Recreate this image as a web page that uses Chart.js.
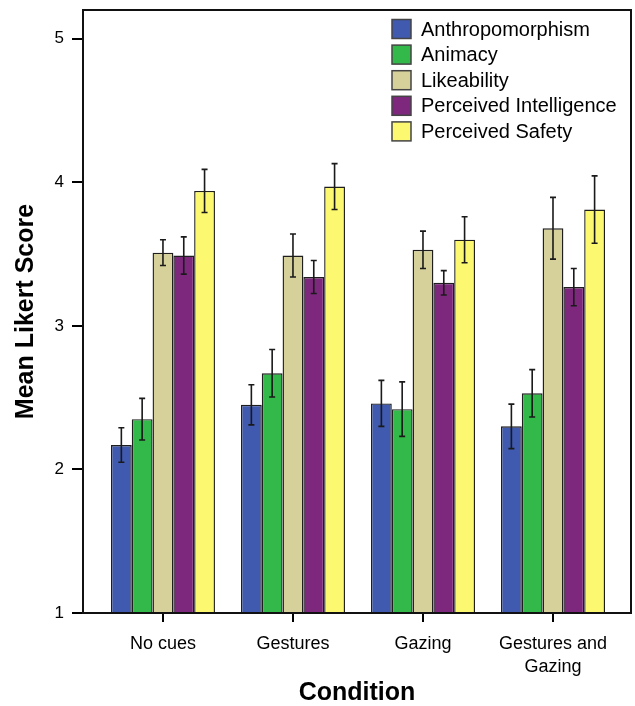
<!DOCTYPE html>
<html>
<head>
<meta charset="utf-8">
<script src="https://cdn.jsdelivr.net/npm/chart.js@4/dist/chart.umd.min.js"></script>
<style>
  html, body { margin: 0; padding: 0; background: #fff; }
  #wrap { width: 635px; height: 706px; position: relative; }
</style>
</head>
<body>
<div id="wrap"><canvas id="c"></canvas></div>
<script>
const categories = ['No cues', 'Gestures', 'Gazing', 'Gestures and Gazing'];
const tickLabels = [['No cues'], ['Gestures'], ['Gazing'], ['Gestures and', 'Gazing']];
const seriesNames = ['Anthropomorphism', 'Animacy', 'Likeability', 'Perceived Intelligence', 'Perceived Safety'];
const seriesColors = ['#3F5AAE', '#33B84A', '#D6D09A', '#7D287D', '#FCF870'];

const anthropomorphism = [2.17, 2.45, 2.46, 2.30];
const animacy = [2.35, 2.67, 2.42, 2.53];
const likeability = [3.51, 3.49, 3.53, 3.68];
const intelligence = [3.49, 3.34, 3.30, 3.27];
const safety = [3.94, 3.97, 3.60, 3.81];

const anthropomorphismErr = [0.12, 0.14, 0.16, 0.155];
const animacyErr = [0.145, 0.165, 0.19, 0.165];
const likeabilityErr = [0.09, 0.15, 0.13, 0.215];
const intelligenceErr = [0.13, 0.115, 0.085, 0.13];
const safetyErr = [0.15, 0.16, 0.16, 0.235];

const yTicks = [1, 2, 3, 4, 5];

const seriesValues = [anthropomorphism, animacy, likeability, intelligence, safety];
const seriesErrors = [anthropomorphismErr, animacyErr, likeabilityErr, intelligenceErr, safetyErr];

const FONT = '"Liberation Sans", Arial, Helvetica, sans-serif';

const datasets = seriesNames.map((name, s) => ({
  label: name,
  data: seriesValues[s].map((v, i) => ({ x: i + 1, y: v })),
  errors: seriesErrors[s],
  backgroundColor: seriesColors[s],
  borderColor: '#1e1e1e',
  borderWidth: 1.4,
  categoryPercentage: 0.8,
  barPercentage: 1.0
}));

const frameAndErrors = {
  id: 'frameAndErrors',
  afterDatasetsDraw(chart) {
    const ctx = chart.ctx;
    const yScale = chart.scales.y;
    ctx.save();
    ctx.strokeStyle = '#1a1a1a';
    ctx.lineWidth = 1.6;
    chart.data.datasets.forEach((ds, di) => {
      const meta = chart.getDatasetMeta(di);
      meta.data.forEach((bar, i) => {
        const v = ds.data[i].y, e = ds.errors[i];
        const x = bar.x;
        const yt = yScale.getPixelForValue(v + e);
        const yb = yScale.getPixelForValue(v - e);
        ctx.beginPath();
        ctx.moveTo(x, yt); ctx.lineTo(x, yb);
        ctx.moveTo(x - 3, yt); ctx.lineTo(x + 3, yt);
        ctx.moveTo(x - 3, yb); ctx.lineTo(x + 3, yb);
        ctx.stroke();
      });
    });
    const a = chart.chartArea;
    ctx.strokeStyle = '#111';
    ctx.lineWidth = 2;
    ctx.strokeRect(a.left, a.top, a.right - a.left, a.bottom - a.top);
    ctx.restore();
  },
  afterDraw(chart) {
    const ctx = chart.ctx;
    ctx.save();
    const boxX = 392, startY = 29, step = 25.6, box = 19;
    ctx.font = '20px ' + FONT;
    ctx.textBaseline = 'middle';
    ctx.textAlign = 'left';
    chart.data.datasets.forEach((ds, i) => {
      const cy = startY + i * step;
      ctx.fillStyle = ds.backgroundColor;
      ctx.fillRect(boxX, cy - box / 2, box, box);
      ctx.strokeStyle = '#444';
      ctx.lineWidth = 1.5;
      ctx.strokeRect(boxX, cy - box / 2, box, box);
      ctx.fillStyle = '#000';
      ctx.fillText(ds.label, 421, cy + 1);
    });
    ctx.restore();
  }
};

new Chart(document.getElementById('c'), {
  type: 'bar',
  data: { datasets },
  plugins: [frameAndErrors],
  options: {
    responsive: true,
    maintainAspectRatio: false,
    animation: false,
    layout: { padding: { left: 0, right: 4, top: 10, bottom: 0 } },
    plugins: { legend: { display: false }, tooltip: { enabled: false } },
    scales: {
      x: {
        type: 'linear',
        min: 0.385,
        max: 4.6,
        offset: false,
        afterBuildTicks: (scale) => { scale.ticks = categories.map((c, i) => ({ value: i + 1 })); },
        afterFit: (scale) => { scale.height = 93; scale.paddingLeft = 0; scale.paddingRight = 0; },
        ticks: {
          autoSkip: false,
          maxRotation: 0,
          padding: 10,
          color: '#000',
          font: { family: FONT, size: 18, lineHeight: 1.3 },
          callback: (value) => tickLabels[Math.round(value) - 1]
        },
        grid: { display: true, drawOnChartArea: false, drawTicks: true, tickLength: 9, offset: false, color: '#000', lineWidth: 2 },
        border: { display: false },
        title: {
          display: true,
          text: 'Condition',
          color: '#000',
          font: { family: FONT, size: 25, weight: 'bold', lineHeight: 1 },
          padding: { top: 0, bottom: 0 }
        }
      },
      y: {
        min: 1,
        max: 5.2,
        afterBuildTicks: (scale) => { scale.ticks = yTicks.map(v => ({ value: v })); },
        afterFit: (scale) => { scale.width = 83; scale.paddingTop = 0; scale.paddingBottom = 0; },
        ticks: {
          padding: 8,
          color: '#000',
          font: { family: FONT, size: 17 }
        },
        grid: { display: true, drawOnChartArea: false, drawTicks: true, tickLength: 11, color: '#000', lineWidth: 2 },
        border: { display: false },
        title: {
          display: true,
          text: 'Mean Likert Score',
          color: '#000',
          font: { family: FONT, size: 25, weight: 'bold', lineHeight: 1.2 },
          padding: { top: 11, bottom: 0 }
        }
      }
    }
  }
});
</script>
</body>
</html>
